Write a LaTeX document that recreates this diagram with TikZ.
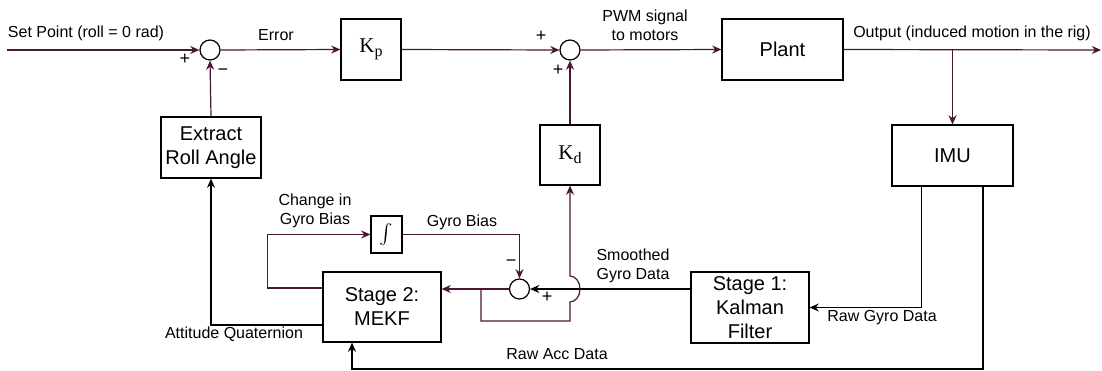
\documentclass[tikz,border=0pt]{standalone}
\usepackage{fontspec}
\setmainfont{Liberation Sans}
\newfontfamily\gainfont{Liberation Serif}
\usetikzlibrary{arrows.meta}
\definecolor{wirered}{HTML}{4B1535}

\begin{document}
\begin{tikzpicture}[x=0.5pt,y=-0.5pt,
  block/.style={draw,line width=0.6pt,inner sep=0pt,align=center,font=\fontsize{10}{12}\selectfont},
  sumjct/.style={draw,circle,line width=0.6pt,minimum size=10pt,inner sep=0pt},
  lbl/.style={inner sep=0pt,align=center,font=\fontsize{8}{9.5}\selectfont},
  sgn/.style={inner sep=0pt,font=\fontsize{9}{9}\selectfont},
  wire/.style={draw=wirered,line width=0.6pt},
  sig/.style={draw=black,line width=0.6pt},
  arrowto/.style={-{Stealth[length=4.6pt,width=4pt,inset=1.5pt]}}]
\useasboundingbox (0,0) rectangle (1102,370);

% forward path
\coordinate (in) at (7,50);
\node[sumjct] (sum1) at (210,50) {};
\node[block,minimum width=30pt,minimum height=30.5pt] (kp) at (371,49.5)
  {\gainfont\fontsize{10.5}{12}\selectfont K\raisebox{-0.45ex}{\fontsize{8}{8}\selectfont p}};
\node[sumjct] (sum2) at (570,50) {};
\node[block,minimum width=60.5pt,minimum height=30.5pt] (plant) at (782.5,49.5) {Plant};
\coordinate (tap) at (952.5,50);
\coordinate (out) at (1101,50);

% feedback blocks
\node[block,minimum width=60.5pt,minimum height=30.5pt] (imu) at (952.5,155.5) {IMU};
\node[block,minimum width=30pt,minimum height=30pt] (kd) at (570,155)
  {\gainfont\fontsize{10.5}{12}\selectfont K\raisebox{-0.45ex}{\fontsize{8}{8}\selectfont d}};
\node[block,minimum width=50pt,minimum height=30.5pt] (extract) at (211,147.5) {Extract\\Roll Angle};
\node[block,minimum width=59pt,minimum height=35.5pt] (stage1) at (750,307.5) {Stage 1:\\Kalman\\Filter};
\node[block,minimum width=59pt,minimum height=35pt] (stage2) at (382,307) {Stage 2:\\MEKF};
\node[block,minimum width=15.5pt,minimum height=18.5pt,font=\fontsize{13}{13}\selectfont] (integ) at (386.5,234.5) {$\int$};
\node[sumjct] (sum3) at (519.5,289) {};
\coordinate (br) at (481,289);
\coordinate (lp) at (570,321);
\coordinate (acc) at (983,369);

% labels
\node[lbl] (setlbl) at (86,33) {Set Point (roll = 0 rad)};
\node[lbl] (errlbl) at (276,35) {Error};
\node[sgn] (p1) at (185,59) {+};
\node[sgn] (m1) at (223,72) {−};
\node[sgn] (p2) at (541,36) {+};
\node[sgn] (p3) at (558,70) {+};
\node[lbl] (pwmlbl) at (645,25.5) {PWM signal\\to motors};
\node[lbl] (outlbl) at (972,33) {Output (induced motion in the rig)};
\node[lbl] (dbiaslbl) at (315,211) {Change in\\Gyro Bias};
\node[lbl] (biaslbl) at (462,222) {Gyro Bias};
\node[sgn] (m3) at (511,263) {−};
\node[sgn] (p4) at (547,297) {+};
\node[lbl] (smoothlbl) at (633,266) {Smoothed\\Gyro Data};
\node[lbl] (gyrolbl) at (882,318) {Raw Gyro Data};
\node[lbl] (acclbl) at (557,354) {Raw Acc Data};
\node[lbl] (attlbl) at (234,334) {Attitude Quaternion};

% connectors
\draw[wire,arrowto] (in) -- (sum1.west);
\draw[wire,arrowto] (sum1.east) -- (kp.west);
\draw[wire,arrowto] (kp.east) -- (sum2.west);
\draw[wire,arrowto] (sum2.east) -- (plant.west);
\draw[wire,arrowto] (plant.east) -- (out);
\draw[wire,arrowto] (tap) -- (imu.north);
\draw[wire,arrowto] (kd.north) -- (sum2.south);
\draw[wire,arrowto] (extract.north) -- (sum1.south);
\draw[sig,arrowto] ([yshift=-9pt]stage2.west) -| (extract.south);
\draw[wire,arrowto] ([yshift=9.5pt]stage2.west) -- ++(-55,0) |- (integ.west);
\draw[wire,arrowto] (integ.east) -| (sum3.north);
\draw[sig,arrowto] (stage1.west |- sum3) -- (sum3.east);
\draw[wire,arrowto] (sum3.west) -- (stage2.east |- sum3);
\draw[wire,arrowto] (br) |- (lp) -- ++(0,-19)
  arc[start angle=-90,end angle=90,x radius=5pt,y radius=6.5pt] -- (kd.south);
\draw[sig,arrowto] ([xshift=-15.4pt]imu.south) |- (stage1.east);
\draw[sig,arrowto] ([xshift=15.25pt]imu.south) -- (acc) -| ([xshift=-15pt]stage2.south);
\end{tikzpicture}
\end{document}
